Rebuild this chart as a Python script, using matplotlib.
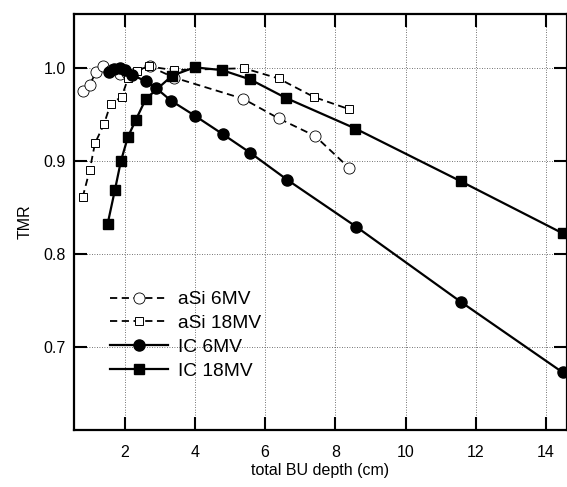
import matplotlib
matplotlib.use("Agg")
import matplotlib.pyplot as plt

plt.rcParams['font.family'] = ['Liberation Sans', 'DejaVu Sans']

# aSi 6MV (open circles, dashed)
asi6_x = [0.80, 1.00, 1.18, 1.38, 1.60, 1.85, 2.05, 2.71, 3.40, 5.38, 6.38, 7.42, 8.38]
asi6_y = [0.975, 0.982, 0.996, 1.002, 0.998, 0.994, 0.995, 1.002, 0.990, 0.967, 0.946, 0.927, 0.893]

# aSi 18MV (open squares, dashed)
asi18_x = [0.80, 1.00, 1.15, 1.41, 1.60, 1.91, 2.10, 2.35, 2.69, 3.39, 5.40, 6.38, 7.39, 8.38]
asi18_y = [0.861, 0.890, 0.919, 0.940, 0.962, 0.969, 0.990, 0.997, 1.002, 0.998, 1.000, 0.989, 0.969, 0.956]

# IC 6MV (filled circles, solid)
ic6_x = [1.55, 1.70, 1.85, 2.00, 2.20, 2.60, 2.88, 3.32, 3.99, 4.79, 5.57, 6.62, 8.60, 11.58, 14.48]
ic6_y = [0.996, 0.999, 1.000, 0.998, 0.993, 0.986, 0.979, 0.965, 0.949, 0.929, 0.909, 0.880, 0.829, 0.748, 0.672]

# IC 18MV (filled squares, solid)
ic18_x = [1.51, 1.72, 1.89, 2.09, 2.31, 2.60, 3.35, 3.99, 4.77, 5.57, 6.59, 8.57, 11.58, 14.48]
ic18_y = [0.832, 0.869, 0.900, 0.926, 0.944, 0.967, 0.992, 1.001, 0.998, 0.988, 0.968, 0.935, 0.878, 0.822]

xticks = [2, 4, 6, 8, 10, 12, 14]
yticks = [0.7, 0.8, 0.9, 1.0]

fig = plt.figure(figsize=(5.67, 4.87), dpi=100)
ax = fig.add_axes([74/567, 1 - 430/487, 1 - 74/567, (430 - 14)/487])

ax.plot(asi6_x, asi6_y, linestyle=(0, (4, 2.5)), color='black', lw=1.3,
        marker='o', ms=8, mfc='white', mec='black', mew=0.6, label='aSi 6MV')
ax.plot(asi18_x, asi18_y, linestyle=(0, (4, 2.5)), color='black', lw=1.3,
        marker='s', ms=6, mfc='white', mec='black', mew=0.7, label='aSi 18MV')
ax.plot(ic6_x, ic6_y, linestyle='-', color='black', lw=1.6,
        marker='o', ms=8, mfc='black', mec='black', label='IC 6MV')
ax.plot(ic18_x, ic18_y, linestyle='-', color='black', lw=1.6,
        marker='s', ms=7, mfc='black', mec='black', label='IC 18MV')

ax.set_xlim(0.553, 14.6)
ax.set_ylim(0.610, 1.0585)
ax.set_xticks(xticks)
ax.set_yticks(yticks)
ax.set_yticklabels(['0.7', '0.8', '0.9', '1.0'])
ax.tick_params(direction='in', length=9.5, width=1.5, top=True, right=True,
               labelsize=11.5)
ax.tick_params(axis='x', pad=11)
ax.tick_params(axis='y', pad=6)
for s in ax.spines.values():
    s.set_linewidth(1.6)
ax.grid(True, linestyle=(0, (1, 2)), color='#444444', lw=0.6)
ax.set_axisbelow(True)

ax.set_xlabel('total BU depth (cm)', fontsize=11.5, labelpad=2)
ax.set_ylabel('TMR', fontsize=11.5, labelpad=8)

leg = ax.legend(loc='lower left', bbox_to_anchor=(0.065, 0.112), frameon=False,
                fontsize=13.8, handlelength=3.05, handletextpad=0.5,
                labelspacing=0.33, borderpad=0.2, borderaxespad=0)

fig.savefig('out.png', dpi=100)
